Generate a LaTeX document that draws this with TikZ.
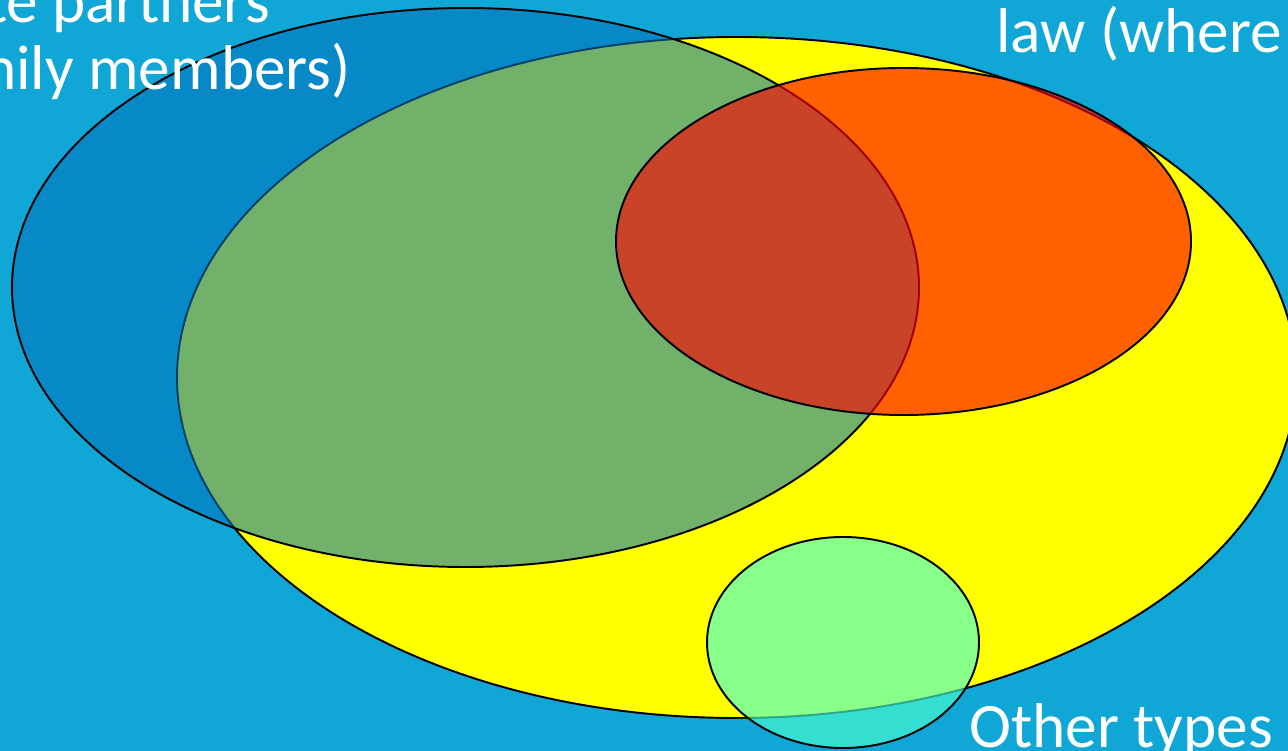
\documentclass[tikz,border=0pt]{standalone}
\usepackage{fontspec}
\setmainfont{Carlito}
\usepackage{tikz}
\usetikzlibrary{positioning}
\definecolor{slidebg}{RGB}{16,166,214}
\definecolor{setyellow}{RGB}{255,255,0}
\definecolor{setblue}{RGB}{2,116,189}
\definecolor{setred}{RGB}{255,0,0}
\definecolor{setmint}{RGB}{72,255,209}

\begin{document}
\begin{tikzpicture}[
  venn/.style={draw=black,line width=1.1pt},
  lbl/.style={text=white,inner sep=0pt,anchor=base west,font=\fontsize{36}{42}\selectfont}]
% Frame
\useasboundingbox (0,0) rectangle (25.76,-15.02);
\clip (0,0) rectangle (25.76,-15.02);
\fill[slidebg] (0,0) rectangle (25.76,-15.02);
% centres of the sets
\coordinate (Y) at (14.734,-7.55);
\coordinate (B) at (9.31,-5.75);
\coordinate (R) at (18.07,-4.83);
\coordinate (M) at (16.86,-12.85);
% sets
\draw[venn,fill=setyellow] (Y) ellipse (11.194cm and 6.81cm);
\draw[venn,fill=setblue,fill opacity=0.56] (B) ellipse (9.07cm and 5.59cm);
\draw[venn,fill=setred,fill opacity=0.62] (R) ellipse (5.75cm and 3.47cm);
\draw[venn,fill=setmint,fill opacity=0.65] (M) ellipse (2.72cm and 2.11cm);
% labels
\node[lbl,anchor=base east] (partners) at (5.40,-0.46) {te partners};
\node[lbl,anchor=base east] (family) at (7.02,-1.80) {nily members)};
\node[lbl] (law) at (19.92,-1.06) {law (where};
\node[lbl] (other) at (19.38,-14.94) {Other types};
\end{tikzpicture}
\end{document}
